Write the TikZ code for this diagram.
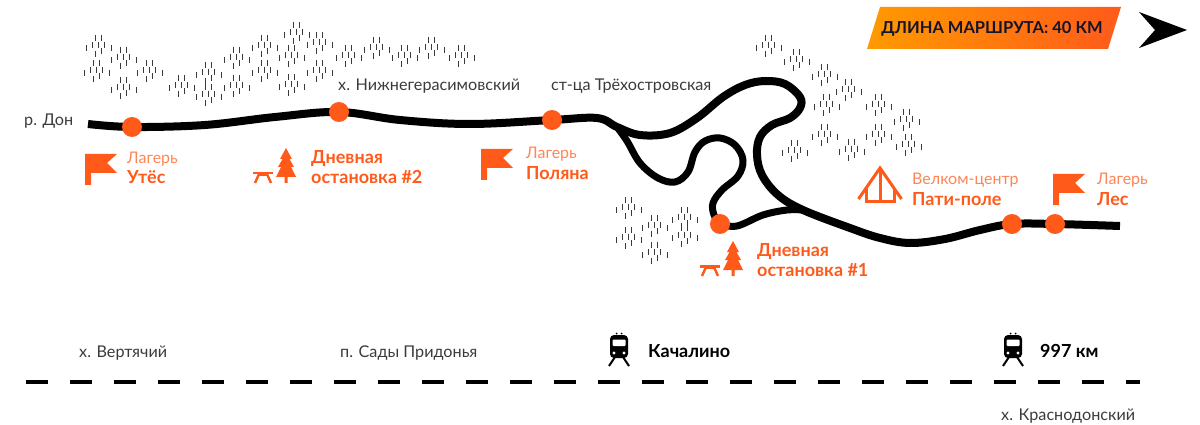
\documentclass[tikz,border=0pt]{standalone}
\usepackage{fontspec}
\setmainfont{Lato}
\usepackage{tikz}
\usetikzlibrary{positioning}

\definecolor{routeorange}{HTML}{FF5A1A}
\definecolor{lightorange}{HTML}{FF8557}
\definecolor{badgeorange}{HTML}{FF9A00}
\definecolor{placegray}{HTML}{3A3A3A}
\definecolor{inkblue}{HTML}{14142B}

\tikzset{
	stopdot/.style={circle, fill=routeorange, inner sep=0, minimum size=20pt},
	placename/.style={inner sep=0, anchor=base west, text=placegray, font=\fontsize{16.2}{16}\selectfont},
	stoptype/.style={inner sep=0, text=lightorange, font=\fontsize{16}{16}\selectfont},
	stopname/.style={inner sep=0, text=routeorange, font=\fontsize{18}{18}\selectfont\bfseries},
	stationname/.style={inner sep=0, anchor=base west, text=black, font=\fontsize{18}{18}\selectfont\bfseries},
	route/.style={draw=black, line width=8pt, line join=round},
	tick/.style={draw=placegray, line width=1pt},
	pics/flag/.style={code={
		\fill[routeorange] (0,0) -- (32,0) -- (22,9) -- (32,19) -- (6,19) -- (6,31) -- (0,31) -- cycle;
	}},
	pics/picnic/.style={code={
		\fill[routeorange] (0,0) -- (6,11) -- (3.5,11) -- (8,19) -- (5,19) -- (10,29) -- (1.5,29) -- (1.5,35) -- (-1.5,35) -- (-1.5,29) -- (-10,29) -- (-5,19) -- (-8,19) -- (-3.5,11) -- (-6,11) -- cycle;
		\fill[routeorange] (-33,24) rectangle (-13,26.5);
		\draw[routeorange, line width=2.4pt] (-27,26) -- (-31,35) (-19,26) -- (-15,35);
		\fill[routeorange] (-28,26) rectangle (-18,28);
	}},
	pics/tent/.style={code={
		\draw[routeorange, line width=3pt] (-21.5,33) -- (0,2) -- (21.5,33);
		\draw[routeorange, line width=3pt] (0,2) -- (0,35) (-14,22) -- (-14,35) -- (14,35) -- (14,22);
	}},
	pics/train/.style={code={
		\fill[black] (-2.5,0.5) circle (1) (2.5,0.5) circle (1);
		\fill[black, rounded corners=4pt] (-9,2) rectangle (9,25);
		\fill[white, rounded corners=1pt] (-6.5,6.5) rectangle (6.5,13);
		\fill[white] (-5,20) circle (1.6) (5,20) circle (1.6);
		\draw[black, line width=2pt] (-4,24) -- (-10,33) (4,24) -- (10,33);
	}}
}

\newcommand{\treeclump}[2]{
	\foreach \dx/\dy in {-11/5,-5/2,-2/-5,-2/11,1/2,4/-5,4/8,7/2,14/5}
		\draw[tick] (#1+\dx,#2+\dy-3) -- (#1+\dx,#2+\dy+3);
}

\begin{document}
\begin{tikzpicture}[x=1pt,y=-1pt]
		\useasboundingbox (0,0) rectangle (1200,425);

		% forest
		\foreach \cx/\cy in {122/55,95/68,122/85,148/68,97/43,
			207/70,235/55,263/43,263/68,290/53,318/40,318/68,290/82,235/83,180/83,207/92,295/30,
			347/53,375/45,403/53,430/45,460/53,
			767/43,795/57,823/72,847/87,825/102,877/102,905/117,877/132,823/132,793/148,850/147,907/142,
			627/205,653/223,627/235,683/233,653/250,683/215}
			{\treeclump{\cx}{\cy}}

		\coordinate (donstart) at (88,124);
		\coordinate (utes) at (132,127);
		\coordinate (picnictwo) at (339,112);
		\coordinate (polyana) at (552,120);
		\coordinate (fork) at (617,127);
		\coordinate (picnicone) at (720,224);
		\coordinate (merge) at (803,210);
		\coordinate (partyfield) at (1012,224);
		\coordinate (forest) at (1055,224);
		\coordinate (routeend) at (1120,226);

		% route
		\draw[route] plot[smooth, tension=.6] coordinates {(donstart) (utes) (205,125) (275,117) (picnictwo) (400,120) (470,124) (polyana)
			(597,118) (fork) (640,135) (670,133) (697,118) (723,97) (745,85) (765,81) (785,84) (800,97) (800,108) (790,118) (772,125)
			(760,137) (757,155) (762,175) (778,195) (merge) (850,228) (880,238) (910,243) (945,239) (980,230) (partyfield) (forest) (routeend)};
		\draw[route, line width=7pt] plot[smooth, tension=.6] coordinates {(fork) (627,141) (640,163) (658,178) (675,182) (688,172) (695,152)
			(705,141) (720,138) (735,145) (743,160) (738,176) (722,190) (713,203) (714,215) (picnicone)};
		\draw[route, line width=7pt] plot[smooth, tension=.6] coordinates {(picnicone) (737,226) (763,215) (787,210) (merge)};

		\node[stopdot] (utesdot) at (utes) {};
		\node[stopdot] (picnictwodot) at (picnictwo) {};
		\node[stopdot] (polyanadot) at (polyana) {};
		\node[stopdot] (picniconedot) at (picnicone) {};
		\node[stopdot] (partyfielddot) at (partyfield) {};
		\node[stopdot] (forestdot) at (forest) {};

		% labels on the map
		\node[placename] (don) at (24,126) {р. Дон};
		\node[placename] (nizhne) at (338,91) {х. Нижнегерасимовский};
		\node[placename] (tryokh) at (551,91) {ст-ца Трёхостровская};

		\pic (utesflag) at (85,154) {flag};
		\pic (polyanaflag) at (481,149) {flag};
		\pic (forestflag) at (1053,174) {flag};
		\pic (picnictwoicon) at (286,148) {picnic};
		\pic (picniconeicon) at (733,241) {picnic};
		\pic (partyicon) at (880,166) {tent};

		\node[stoptype, anchor=base west] (utestype) at (127,164) {Лагерь};
		\node[stopname, below = 20pt of utestype.base west, anchor=base west] (utesname) {Утёс};
		\node[stopname, anchor=base west] (picnictwotype) at (311,164) {Дневная};
		\node[stopname, below = 20pt of picnictwotype.base west, anchor=base west] (picnictwoname) {остановка \#2};
		\node[stoptype, anchor=base west] (polyanatype) at (526,159) {Лагерь};
		\node[stopname, below = 20pt of polyanatype.base west, anchor=base west] (polyananame) {Поляна};
		\node[stopname, anchor=base west] (picniconetype) at (757,256) {Дневная};
		\node[stopname, below = 20pt of picniconetype.base west, anchor=base west] (picniconename) {остановка \#1};
		\node[stoptype, anchor=base west] (partytype) at (912,185) {Велком-центр};
		\node[stopname, below = 20pt of partytype.base west, anchor=base west] (partyname) {Пати-поле};
		\node[stoptype, anchor=base west] (foresttype) at (1097,185) {Лагерь};
		\node[stopname, below = 20pt of foresttype.base west, anchor=base west] (forestname) {Лес};

		% badge and north arrow
		\shade[left color=badgeorange, right color=routeorange] (880,7) -- (1121,7) -- (1108,49) -- (867,49) -- cycle;
		\node[inner sep=0, text=inkblue, font=\fontsize{16.5}{16}\selectfont\bfseries] (lengthlabel) at (992,29) {ДЛИНА МАРШРУТА: 40 КМ};
		\fill[black] (1139,12) -- (1187,30) -- (1139,48) -- (1155,30) -- cycle;

		% railway
		\coordinate (railstart) at (26,382);
		\coordinate (railend) at (1140,382);
		\draw[black, line width=4pt, dash pattern=on 22pt off 22pt] (railstart) -- (railend);

		\node[placename] (vertyachiy) at (79,357) {х. Вертячий};
		\node[placename] (sady) at (340,357) {п. Сады Придонья};
		\node[placename] (krasnodon) at (1001,420) {х. Краснодонский};
		\pic (kachalinotrain) at (619,333) {train};
		\pic (kmtrain) at (1013,333) {train};
		\node[stationname] (kachalino) at (648,357) {Качалино};
		\node[stationname] (kmstop) at (1040,357) {997 км};

\end{tikzpicture}
\end{document}
